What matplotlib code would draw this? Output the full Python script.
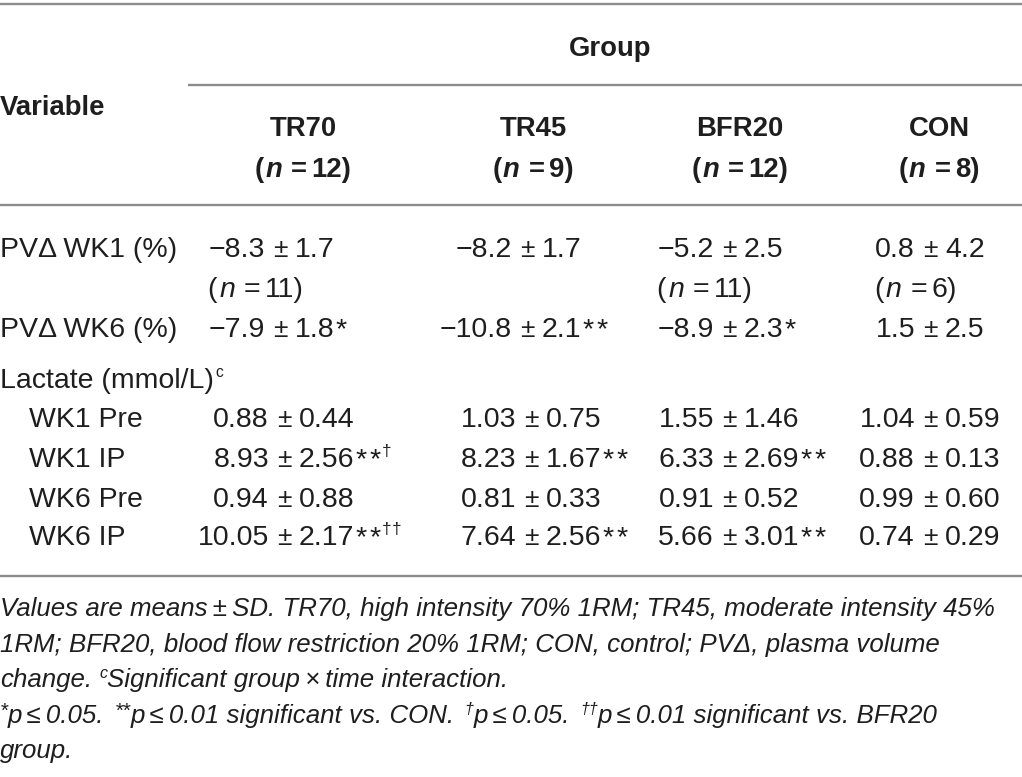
import matplotlib
matplotlib.use("Agg")
import matplotlib.pyplot as plt

# ---------------- data ----------------
groups = ["TR70", "TR45", "BFR20", "CON"]
group_n = [12, 9, 12, 8]

pv_wk1_mean = [-8.3, -8.2, -5.2, 0.8]
pv_wk1_sd = [1.7, 1.7, 2.5, 4.2]
pv_wk1_n = [11, None, 11, 6]

pv_wk6_mean = [-7.9, -10.8, -8.9, 1.5]
pv_wk6_sd = [1.8, 2.1, 2.3, 2.5]
pv_wk6_sig = ["*", "**", "*", ""]

lact_labels = ["WK1 Pre", "WK1 IP", "WK6 Pre", "WK6 IP"]
lact_mean = [
    [0.88, 1.03, 1.55, 1.04],
    [8.93, 8.23, 6.33, 0.88],
    [0.94, 0.81, 0.91, 0.99],
    [10.05, 7.64, 5.66, 0.74],
]
lact_sd = [
    [0.44, 0.75, 1.46, 0.59],
    [2.56, 1.67, 2.69, 0.13],
    [0.88, 0.33, 0.52, 0.60],
    [2.17, 2.56, 3.01, 0.29],
]
lact_sig = [
    ["", "", "", ""],
    ["**", "**", "**", ""],
    ["", "", "", ""],
    ["**", "**", "**", ""],
]
lact_dag = [
    ["", "", "", ""],
    ["\u2020", "", "", ""],
    ["", "", "", ""],
    ["\u2020\u2020", "", "", ""],
]

# ---------------- layout ----------------
W, H = 1022, 777
fig = plt.figure(figsize=(W / 100, H / 100), dpi=100)
ax = fig.add_axes([0, 0, 1, 1])
ax.set_xlim(0, W)
ax.set_ylim(H, 0)
ax.axis("off")
fig.canvas.draw()
R = fig.canvas.get_renderer()

FAM = "Liberation Sans"
TXT = "#1e1e1e"
BODY = 20.5
HEAD = 19.8
FOOT = 18.6

def width(t):
    return t.get_window_extent(renderer=R).width

def runs(x, y, parts, ha="left", size=BODY, weight="normal", style="normal"):
    """parts: list of (text, opts); opts may have sup, style, weight, gap, scale"""
    objs = []
    total = 0.0
    for txt, o in parts:
        sc = o.get("scale", 0.62 if o.get("sup") else 1.0)
        sz = size * sc
        t = ax.text(0, y, txt, fontsize=sz, family=FAM, color=TXT,
                    fontweight=o.get("weight", weight),
                    fontstyle=o.get("style", style), va="baseline", ha="left")
        w = width(t)
        gap = o.get("gap", 0.0)
        objs.append((t, w, gap, o))
        total += gap + w
    if ha == "center":
        cx = x - total / 2
    elif ha == "right":
        cx = x - total
    else:
        cx = x
    start = cx
    for t, w, gap, o in objs:
        cx += gap
        dy = -size * 1.389 * o.get("rise", 0.36) if o.get("sup") else 0
        t.set_position((cx, y + dy))
        cx += w
    return start, cx

def fmt(v, nd):
    s = f"{abs(v):.{nd}f}"
    return ("\u2212" + s) if v < 0 else s

LGAP = 15.0   # number right edge to +- centre
RGAP = 15.0   # +- centre to sd left edge

def cell(xpm, y, mean, sd, nd, sig="", dag=""):
    ax.text(xpm, y, "\u00b1", fontsize=BODY * 0.92, family=FAM, color=TXT,
            ha="center", va="baseline")
    tl = ax.text(xpm - LGAP, y, fmt(mean, nd), fontsize=BODY, family=FAM,
                 color=TXT, ha="right", va="baseline")
    left = xpm - LGAP - width(tl)
    parts = [(fmt(sd, nd), {})]
    for k, ch in enumerate(sig):
        parts.append((ch, {"gap": 1.0 if k == 0 else 2.5}))
    for k, ch in enumerate(dag):
        parts.append((ch, {"sup": True, "gap": 2 if k == 0 else 0.5,
                           "scale": 0.6, "rise": 0.40}))
    runs(xpm + RGAP, y, parts)
    return left

# rules
lc = "#8c8c8c"
ax.plot([0, W], [3.5, 3.5], color=lc, lw=1.7, solid_capstyle="butt")
ax.plot([188, W], [85, 85], color=lc, lw=1.7, solid_capstyle="butt")
ax.plot([0, W], [204.5, 204.5], color=lc, lw=1.7, solid_capstyle="butt")
ax.plot([0, W], [576, 576], color=lc, lw=1.7, solid_capstyle="butt")

# header
col_center = [303, 533, 740, 939]
runs(610, 56, [("Group", {})], ha="center", size=HEAD, weight="bold")
runs(0, 115, [("Variable", {})], size=HEAD, weight="bold")
for i, g in enumerate(groups):
    runs(col_center[i], 136, [(g, {})], ha="center", size=HEAD, weight="bold")
    runs(col_center[i], 177, [("(", {}), ("n", {"style": "italic", "gap": 1}),
                              ("=", {"gap": 9}), (f"{group_n[i]})", {"gap": 4})],
         ha="center", size=HEAD, weight="bold")

# body
pm_pv = [280, 527, 729, 930]
pm_lac = [284, 531, 729, 930]
row_y = {"wk1": 257, "wk1n": 297, "wk6": 337, "lac": 388}
lact_y = [427, 467, 507, 545]

runs(0, row_y["wk1"], [("PV\u0394 WK1 (%)", {})])
runs(0, row_y["wk6"], [("PV\u0394 WK6 (%)", {})])
runs(0, row_y["lac"], [("Lactate (mmol/L)", {}),
                        ("c", {"sup": True, "gap": 2, "scale": 0.55, "rise": 0.38})])
for j, lab in enumerate(lact_labels):
    runs(29, lact_y[j], [(lab, {})])

for i in range(4):
    left = cell(pm_pv[i], row_y["wk1"], pv_wk1_mean[i], pv_wk1_sd[i], 1)
    if pv_wk1_n[i] is not None:
        runs(left - 1, row_y["wk1n"], [("(", {}), ("n", {"style": "italic", "gap": 2}),
                                       ("=", {"gap": 9}), (f"{pv_wk1_n[i]})", {"gap": 4})])
    cell(pm_pv[i], row_y["wk6"], pv_wk6_mean[i], pv_wk6_sd[i], 1, pv_wk6_sig[i])
    for j in range(4):
        cell(pm_lac[i], lact_y[j], lact_mean[j][i], lact_sd[j][i], 2,
             lact_sig[j][i], lact_dag[j][i])

# footnotes
fy = [616, 652, 687, 723, 758]
it = {"style": "italic"}
sup = {"style": "italic", "sup": True, "scale": 0.62, "rise": 0.36}
supa = {"style": "italic", "sup": True, "scale": 0.8, "rise": 0.22}
runs(0, fy[0], [("Values are means\u2009\u00b1\u2009SD. TR70, high intensity 70% 1RM; TR45, moderate intensity 45%", it)], size=FOOT)
runs(0, fy[1], [("1RM; BFR20, blood flow restriction 20% 1RM; CON, control; PV\u0394, plasma volume", it)], size=FOOT)
runs(0, fy[2], [("change.", it), ("c", dict(sup, gap=7)),
                ("Significant group\u2009\u00d7\u2009time interaction.", it)], size=FOOT)
runs(0, fy[3], [("*", supa), ("p\u2009\u2264\u20090.05.", it), ("**", dict(supa, gap=10)),
                ("p\u2009\u2264\u20090.01 significant vs. CON.", it), ("\u2020", dict(sup, gap=10)),
                ("p\u2009\u2264\u20090.05.", it), ("\u2020\u2020", dict(sup, gap=10)),
                ("p\u2009\u2264\u20090.01 significant vs. BFR20", it)], size=FOOT)
runs(0, fy[4], [("group.", it)], size=FOOT)

fig.savefig("out.png", dpi=100)
